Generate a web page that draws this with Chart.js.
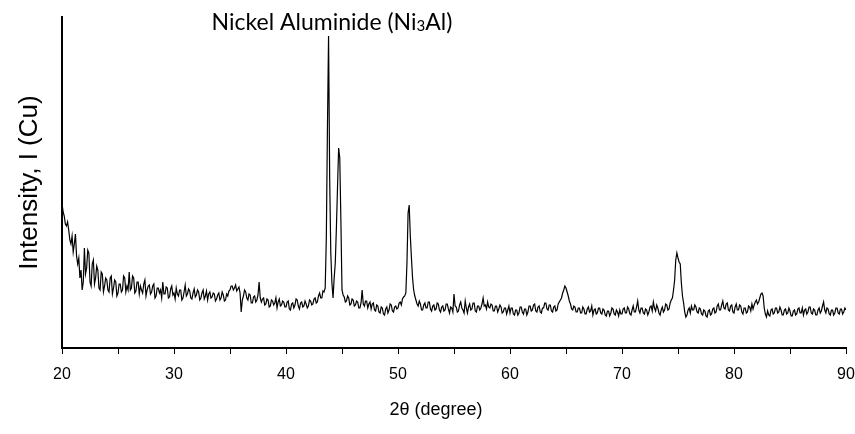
<!DOCTYPE html>
<html>
<head>
<meta charset="utf-8">
<script src="https://cdn.jsdelivr.net/npm/chart.js@4.4.1/dist/chart.umd.min.js"></script>
<style>
  body { margin: 0; background: #fff; }
  canvas { display: block; }
</style>
</head>
<body>
<canvas id="xrd" width="855" height="434"></canvas>
<script>
// scan settings (2theta, degrees)
const startAngle = 20
const stepAngle = 0.1
const xTicks = [20, 30, 40, 50, 60, 70, 80, 90]

// intensity, one row = 2 degrees
const intensity = [
    145, 136, 132, 124, 122, 126, 118, 108, 104, 112, 96, 104, 114, 92, 84, 90, 70, 78, 58, 66,     // 20
    100, 74, 80, 98, 95, 66, 62, 84, 88, 64, 70, 82, 78, 60, 58, 76, 74, 56, 62, 70,              // 22
    68, 58, 56, 70, 72, 54, 60, 68, 66, 52, 55, 64, 64, 56, 58, 72, 70, 56, 62, 58,               // 24
    76, 58, 60, 72, 70, 55, 57, 66, 66, 54, 62, 58, 55, 64, 68, 52, 58, 62, 63, 54,               // 26
    56, 62, 64, 50, 52, 60, 60, 55, 58, 50, 66, 54, 54, 61, 60, 50, 51, 59, 62, 53,               // 28
    55, 49, 60, 54, 52, 58, 58, 48, 50, 56, 63, 52, 54, 59, 57, 50, 49, 55, 59, 51,               // 30
    53, 58, 56, 48, 50, 55, 58, 49, 52, 57, 48, 54, 56, 50, 51, 55, 54, 47, 49, 53,               // 32
    55, 48, 50, 56, 53, 47, 48, 54, 52, 57, 58, 62, 62, 58, 60, 63, 57, 59, 61, 55,               // 34
    36, 48, 52, 58, 56, 50, 48, 54, 53, 45, 45, 51, 52, 46, 48, 53, 66, 50, 46, 49,               // 36
    50, 43, 44, 49, 48, 41, 42, 48, 47, 43, 45, 50, 40, 46, 49, 42, 43, 47, 46, 41,               // 38
    41, 46, 47, 39, 38, 44, 45, 40, 43, 49, 48, 42, 39, 45, 46, 41, 42, 47, 44, 40,               // 40
    42, 48, 47, 43, 44, 49, 50, 45, 46, 52, 55, 50, 50, 57, 56, 60, 110, 220, 312, 170,           // 42
    95, 65, 50, 70, 85, 120, 161, 200, 190, 128, 58, 53, 51, 46, 47, 52, 50, 43, 44, 49,          // 44
    48, 42, 43, 47, 46, 40, 40, 45, 58, 44, 42, 47, 47, 40, 44, 46, 39, 44, 45, 38,               // 46
    37, 43, 42, 36, 35, 41, 40, 34, 33, 39, 41, 35, 38, 44, 43, 37, 36, 41, 42, 39,               // 48
    40, 45, 46, 43, 49, 51, 52, 55, 85, 135, 143, 112, 90, 70, 58, 52, 48, 44, 42, 47,            // 50
    44, 38, 38, 43, 45, 40, 40, 46, 46, 39, 37, 42, 43, 38, 39, 45, 44, 38, 36, 41,               // 52
    42, 37, 38, 44, 44, 39, 35, 41, 40, 36, 54, 42, 41, 36, 37, 43, 46, 40, 38, 35,               // 54
    47, 40, 35, 41, 44, 38, 39, 45, 45, 37, 36, 42, 42, 38, 40, 44, 50, 42, 43, 39,               // 56
    46, 41, 40, 44, 43, 37, 37, 42, 42, 36, 39, 43, 41, 35, 36, 40, 40, 34, 38, 42,               // 58
    35, 40, 40, 34, 33, 38, 38, 33, 35, 41, 41, 36, 34, 39, 39, 33, 36, 42, 42, 37,               // 60
    38, 43, 44, 37, 36, 41, 42, 36, 35, 40, 40, 45, 45, 39, 38, 43, 43, 37, 36, 41,               // 62
    42, 37, 38, 44, 46, 48, 50, 55, 58, 62, 60, 56, 52, 47, 44, 39, 38, 42, 41, 36,               // 64
    36, 40, 40, 35, 35, 41, 39, 34, 34, 39, 41, 36, 37, 42, 33, 38, 39, 34, 35, 40,               // 66
    40, 35, 34, 39, 38, 33, 32, 37, 37, 32, 35, 40, 39, 34, 33, 38, 36, 32, 38, 34,               // 68
    34, 39, 40, 35, 35, 41, 39, 34, 33, 38, 42, 36, 36, 41, 47, 38, 35, 40, 40, 35,               // 70
    34, 39, 38, 33, 36, 41, 42, 37, 46, 40, 37, 43, 40, 35, 33, 38, 41, 36, 38, 44,               // 72
    43, 38, 39, 45, 48, 50, 58, 68, 88, 95, 90, 86, 84, 65, 52, 45, 36, 31, 33, 38,               // 74
    40, 35, 42, 38, 38, 43, 41, 36, 35, 40, 39, 34, 33, 38, 37, 32, 31, 37, 38, 33,               // 76
    34, 39, 40, 35, 36, 42, 44, 38, 38, 43, 47, 40, 39, 44, 45, 38, 37, 42, 43, 36,               // 78
    35, 41, 44, 38, 38, 43, 42, 36, 34, 40, 40, 35, 36, 42, 41, 37, 44, 39, 43, 46,               // 80
    48, 44, 46, 50, 54, 55, 52, 40, 34, 31, 37, 33, 32, 38, 39, 34, 35, 40, 40, 35,               // 82
    36, 41, 38, 33, 33, 38, 39, 34, 35, 40, 37, 32, 32, 37, 38, 33, 34, 39, 40, 35,               // 84
    35, 40, 33, 38, 39, 34, 36, 41, 41, 35, 34, 39, 38, 33, 33, 38, 40, 35, 37, 42,               // 86
    46, 38, 35, 40, 39, 34, 33, 38, 38, 33, 35, 40, 40, 35, 34, 39, 39, 34, 36, 40,               // 88
    38                                                                                           // 90
]

const points = intensity.map((v, i) => ({ x: +(startAngle + i * stepAngle).toFixed(1), y: v }))

// peak label (with subscript 3) and the x axis title
const labels = {
    id: 'labels',
    afterDraw(chart) {
        const c = chart.ctx
        const xs = chart.scales.x
        const parts = [['Nickel Aluminide (Ni', 23, 0], ['3', 15, 1], ['Al)', 23, 0]]
        c.save()
        c.fillStyle = '#000'
        c.textBaseline = 'alphabetic'
        let total = 0
        parts.forEach(p => { c.font = p[1] + 'px Lato'; total += c.measureText(p[0]).width })
        let x = xs.getPixelForValue(44.1) - total / 2
        parts.forEach(p => {
            c.font = p[1] + 'px Lato'
            c.fillText(p[0], x, 30 + p[2])
            x += c.measureText(p[0]).width
        })

        c.font = '18px "Liberation Sans"'
        c.textAlign = 'center'
        c.textBaseline = 'middle'
        c.fillText('2θ (degree)', xs.getPixelForValue(53.4), chart.chartArea.bottom + 62)
        c.restore()
    }
}

new Chart(document.getElementById('xrd').getContext('2d'), {
    type: 'line',
    data: {
        datasets: [{
            data: points,
            borderColor: '#000',
            borderWidth: 1.2,
            pointRadius: 0,
            tension: 0,
            fill: false
        }]
    },
    options: {
        responsive: false,
        devicePixelRatio: 1,
        animation: false,
        layout: { padding: { top: 17, right: 9, left: 0, bottom: 0 } },
        plugins: { legend: { display: false }, tooltip: { enabled: false } },
        scales: {
            x: {
                type: 'linear',
                min: 20,
                max: 90,
                afterFit: s => { s.height = 86; s.paddingLeft = 0; s.paddingRight = 0 },
                afterBuildTicks: s => {
                    const t = []
                    for (let v = 20; v <= 90; v += 5) t.push({ value: v })
                    s.ticks = t
                },
                ticks: {
                    autoSkip: false,
                    maxRotation: 0,
                    padding: 11,
                    color: '#000',
                    font: { family: 'Liberation Sans', size: 16 },
                    callback: v => xTicks.includes(v) ? String(v) : ''
                },
                grid: { drawOnChartArea: false, tickLength: 6, tickColor: '#000', tickWidth: 1 },
                border: { display: true, color: '#000', width: 2 }
            },
            y: {
                min: 0,
                max: 331,
                afterFit: s => { s.width = 62 },
                ticks: { display: false },
                grid: { display: false },
                border: { display: true, color: '#000', width: 2 },
                title: {
                    display: true,
                    text: 'Intensity, I (Cu)',
                    color: '#000',
                    font: { family: 'Liberation Sans', size: 26 },
                    padding: { top: 14, bottom: 0 }
                }
            }
        }
    },
    plugins: [labels]
})
</script>
</body>
</html>
